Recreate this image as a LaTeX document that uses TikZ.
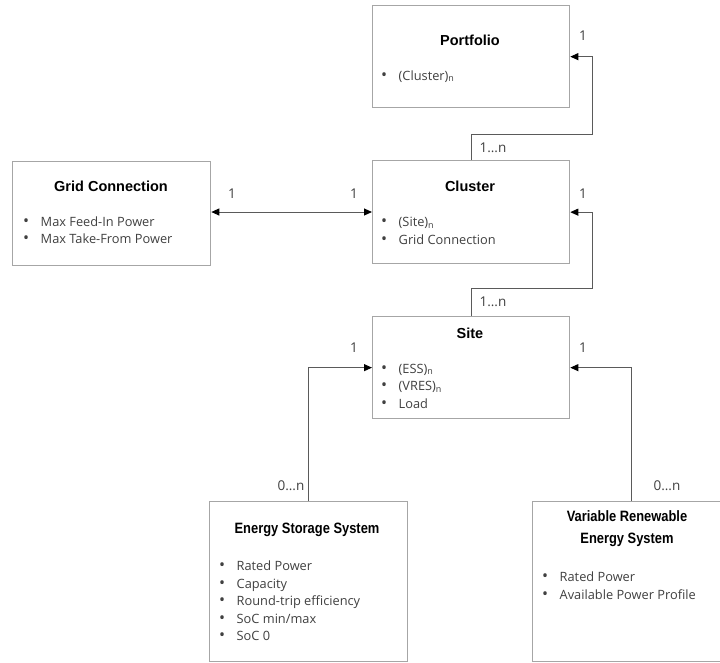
\documentclass[tikz,border=0pt]{standalone}
\usepackage{fontspec}
\setmainfont{Open Sans}
\newfontfamily\titlefont{Liberation Sans}
\newfontfamily\condfont[FakeStretch=0.86]{Liberation Sans}
\usetikzlibrary{arrows.meta}
\definecolor{boxgray}{HTML}{A6A6A6}
\definecolor{txtgray}{HTML}{404040}
\definecolor{linegray}{HTML}{5A5A5A}
\newcommand{\bl}[1]{\makebox[17.5pt][l]{\raisebox{-0.3pt}{\scalebox{1.25}{\textbullet}}}#1}
\tikzset{
  box/.style={draw=boxgray, line width=1.3pt, fill=white, rectangle, anchor=north west, inner sep=0pt},
  ttl/.style={font=\titlefont\bfseries\fontsize{14.5}{16}\selectfont, text=black, inner sep=0pt},
  cttl/.style={font=\condfont\bfseries\fontsize{15}{22}\selectfont, text=black, inner sep=0pt, align=center},
  items/.style={font=\fontsize{12.8}{17.5}\selectfont, text=txtgray, inner sep=0pt, align=left, anchor=base west},
  card/.style={font=\fontsize{13.5}{15}\selectfont, text=txtgray, inner sep=0pt},
  conn/.style={draw=linegray, line width=1pt, -{Triangle[length=8pt,width=7pt,color=black]}},
  conn2/.style={draw=linegray, line width=1pt, {Triangle[length=8pt,width=7pt,color=black]}-{Triangle[length=8pt,width=7pt,color=black]}}
}
\begin{document}
\begin{tikzpicture}[x=1pt,y=-1pt]
\useasboundingbox (0,0) rectangle (720,662);
% boxes
\node[box, minimum width=197pt, minimum height=102pt] (portfolio) at (372,5) {};
\node[box, minimum width=197pt, minimum height=103pt] (cluster) at (372,160) {};
\node[box, minimum width=198pt, minimum height=104pt] (grid) at (12,161) {};
\node[box, minimum width=197pt, minimum height=102pt] (site) at (372,316) {};
\node[box, minimum width=198pt, minimum height=160pt] (ess) at (209,501) {};
\node[box, minimum width=198pt, minimum height=160pt] (vres) at (532,501) {};
% titles
\node[ttl] (tp) at (470,40) {Portfolio};
\node[ttl] (tc) at (470,186) {Cluster};
\node[ttl] (tg) at (111,186) {Grid Connection};
\node[ttl] (ts) at (470,333) {Site};
\node[cttl] (te) at (307,530) {Energy Storage System};
\node[cttl] (tv) at (627,529) {Variable Renewable\\Energy System};
% items (anchor = baseline of last line)
\node[items] (ip) at (381,80) {\bl{(Cluster)\textsubscript{n}}};
\node[items] (ic) at (381,244) {\bl{(Site)\textsubscript{n}}\\\bl{Grid Connection}};
\node[items] (ig) at (23,243.5) {\bl{Max Feed-In Power}\\\bl{Max Take-From Power}};
\node[items] (is) at (381,408) {\bl{(ESS)\textsubscript{n}}\\\bl{(VRES)\textsubscript{n}}\\\bl{Load}};
\node[items] (ie) at (219,640.5) {\bl{Rated Power}\\\bl{Capacity}\\\bl{Round-trip efficiency}\\\bl{SoC min/max}\\\bl{SoC 0}};
\node[items] (iv) at (542,599) {\bl{Rated Power}\\\bl{Available Power Profile}};
% connectors
\coordinate (k1) at (592,134);
\coordinate (k2) at (592,288);
\draw[conn] (cluster.north) |- (k1) |- (portfolio.east);
\draw[conn] (site.north) |- (k2) |- (cluster.east);
\draw[conn2] (grid.east |- 0,212) -- (cluster.west |- 0,212);
\draw[conn] (ess.north) |- (site.west);
\draw[conn] (vres.north) |- (site.east);
% cardinalities
\node[card] (l1) at (583,36) {1};
\node[card] (l2) at (493,148) {1…n};
\node[card] (l3) at (583,194) {1};
\node[card] (l4) at (493,302) {1…n};
\node[card] (l5) at (232,194) {1};
\node[card] (l6) at (354,194) {1};
\node[card] (l7) at (354,348) {1};
\node[card] (l8) at (583,348) {1};
\node[card] (l9) at (291,486) {0…n};
\node[card] (l10) at (667,486) {0…n};
\end{tikzpicture}
\end{document}
